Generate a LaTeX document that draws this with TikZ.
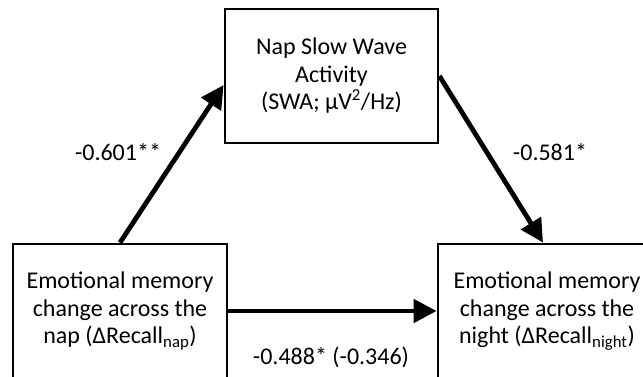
\documentclass[tikz,border=0pt]{standalone}
\usepackage{fontspec}
\setmainfont{Carlito}
\usetikzlibrary{arrows.meta}
\begin{document}
\begin{tikzpicture}[x=1pt,y=-1pt,
  box/.style={draw=black,line width=2.8pt,align=center,inner sep=0pt,
    font=\fontsize{24}{27.5}\selectfont,text=black},
  lab/.style={font=\fontsize{24}{28}\selectfont,text=black,inner sep=0pt},
  arr/.style={line width=4.8pt,-{Triangle[length=23pt,width=23pt]}}]
\useasboundingbox (0,0) rectangle (643,376);
\clip (0,0) rectangle (643,376);
\fill[white] (0,0) rectangle (643,376);
\node[box,minimum width=213pt,minimum height=134pt] (T) at (331.5,76)
  {Nap Slow Wave\\Activity\\(SWA; µV\textsuperscript{2}/Hz)};
\node[box,minimum width=214pt,minimum height=134pt] (L) at (120,311)
  {Emotional memory\\change across the\\nap (ΔRecall\textsubscript{nap})};
\node[box,minimum width=218pt,minimum height=134pt] (R) at (547,311)
  {Emotional memory\\change across the\\night (ΔRecall\textsubscript{night})};
\draw[arr] (L.north) -- ([yshift=-9pt]T.west);
\draw[arr] (T.east) -- ([xshift=-4pt]R.north);
\draw[arr] (L.east) -- (R.west);
\node[lab] (l1) at (118,152) {-0.601**};
\node[lab] (l2) at (550,152) {-0.581*};
\node[lab] (l3) at (331,357) {-0.488* (-0.346)};
\end{tikzpicture}
\end{document}
